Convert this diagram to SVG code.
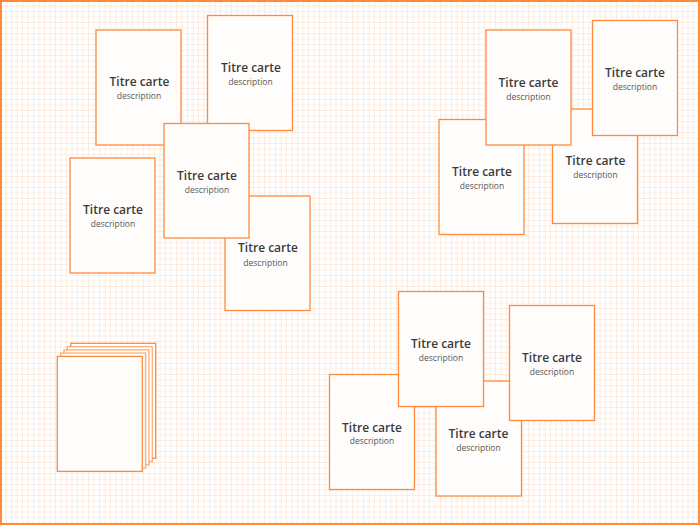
<svg xmlns="http://www.w3.org/2000/svg" width="700" height="525" viewBox="0 0 700 525">
<defs>
<pattern id="grid" width="5.5" height="5.5" patternUnits="userSpaceOnUse" x="1" y="1">
<path d="M5.5 0V5.5M0 5.5H5.5" fill="none" stroke="#fcdcc6" stroke-width="1"/>
</pattern>
<style>
.card{fill:#fffdfb;stroke:#ff8a3d;stroke-width:1.3}
.t{font-family:"Open Sans","Liberation Sans",sans-serif;font-weight:600;font-size:12px;fill:#3a3a3a;text-anchor:middle}
.d{font-family:"Open Sans","Liberation Sans",sans-serif;font-size:8.5px;fill:#555;text-anchor:middle}
</style>
</defs>
<rect width="700" height="525" fill="#ffffff"/>
<rect width="700" height="525" fill="url(#grid)"/>
<rect x="1" y="1" width="698" height="523" fill="none" stroke="#ff8a3d" stroke-width="2"/>

<g id="card-a"><rect class="card" x="96" y="30" width="85" height="115"/><text class="t" x="139.5" y="86">Titre carte</text><text class="d" x="139" y="99">description</text></g>
<g id="card-b"><rect class="card" x="207.5" y="15.5" width="85" height="115"/><text class="t" x="251" y="71.5">Titre carte</text><text class="d" x="250.5" y="84.5">description</text></g>
<g id="card-e"><rect class="card" x="225" y="196" width="85" height="114.5"/><text class="t" x="268" y="251.5">Titre carte</text><text class="d" x="265.5" y="266">description</text></g>
<g id="card-d"><rect class="card" x="70" y="158" width="85" height="115"/><text class="t" x="113" y="214">Titre carte</text><text class="d" x="113" y="227">description</text></g>
<g id="card-c"><rect class="card" x="164" y="123.5" width="85" height="114.5"/><text class="t" x="207" y="180">Titre carte</text><text class="d" x="207" y="192.5">description</text></g>

<g id="card-h"><rect class="card" x="439" y="119.5" width="85" height="115"/><text class="t" x="482" y="176">Titre carte</text><text class="d" x="482" y="189">description</text></g>
<g id="card-i"><rect class="card" x="552.5" y="109" width="85" height="114.5"/><text class="t" x="595.5" y="165">Titre carte</text><text class="d" x="595.5" y="178">description</text></g>
<g id="card-f"><rect class="card" x="486" y="30" width="85" height="115"/><text class="t" x="528.5" y="86.5">Titre carte</text><text class="d" x="528.5" y="99.5">description</text></g>
<g id="card-g"><rect class="card" x="592.5" y="20.5" width="85" height="115"/><text class="t" x="635" y="77">Titre carte</text><text class="d" x="635" y="90">description</text></g>

<g id="card-j"><rect class="card" x="329.5" y="374.5" width="85" height="115"/><text class="t" x="372" y="431.5">Titre carte</text><text class="d" x="372" y="444">description</text></g>
<g id="card-l"><rect class="card" x="436" y="381" width="85.5" height="115"/><text class="t" x="478.5" y="437.5">Titre carte</text><text class="d" x="478.5" y="450.5">description</text></g>
<g id="card-k"><rect class="card" x="398.5" y="291.5" width="85" height="115"/><text class="t" x="441" y="347.5">Titre carte</text><text class="d" x="441" y="360.5">description</text></g>
<g id="card-m"><rect class="card" x="509.5" y="305.5" width="85" height="115"/><text class="t" x="552" y="362">Titre carte</text><text class="d" x="552" y="375">description</text></g>

<g id="stack">
<rect class="card" x="70.7" y="343.3" width="85" height="115"/>
<rect class="card" x="67.3" y="346.6" width="85" height="115" stroke-opacity="0.7"/>
<rect class="card" x="64" y="349.9" width="85" height="115" stroke-opacity="0.7"/>
<rect class="card" x="60.6" y="353.1" width="85" height="115" stroke-opacity="0.7"/>
<rect class="card" x="57.3" y="356.4" width="85" height="115"/>
</g>
</svg>
